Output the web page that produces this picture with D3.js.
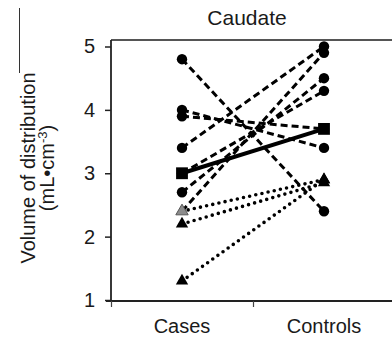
<!DOCTYPE html>
<html>
<head>
<meta charset="utf-8">
<script src="https://cdn.jsdelivr.net/npm/d3@7"></script>
<style>
  body { margin: 0; background: #fff; }
  text { font-family: "Liberation Sans", Arial, sans-serif; fill: #1a1a1a; }
</style>
</head>
<body>
<div id="chart-area"></div>
<script>
// values
var groups = ["Cases", "Controls"];
var yTicks = [1, 2, 3, 4, 5];
// circles joined by dashed lines
var dashedCases    = [4.8, 4.0, 3.9, 3.4, 3.0, 2.7, 2.4];
var dashedControls = [2.4, 3.4, 3.7, 5.0, 4.3, 4.5, 4.9];
// triangles joined by dotted lines
var dottedCases    = [2.4, 2.2, 1.3];
var dottedControls = [2.9, 2.85, 2.9];
// group mean (squares, solid line)
var meanCases    = [3.0];
var meanControls = [3.7];

var width = 392, height = 337;

var svg = d3.select("#chart-area").append("svg")
  .attr("width", width)
  .attr("height", height);

var x = d3.scaleBand().domain(groups).range([111, 395]);
var y = d3.scaleLinear().domain([1, 5]).range([300, 46.5]);
var cx = function(g) { return x(g) + x.bandwidth() / 2; };

// left edge line from the cropped figure
svg.append("line")
  .attr("x1", 19.5).attr("x2", 19.5).attr("y1", 8).attr("y2", 73)
  .attr("stroke", "#333").attr("stroke-width", 1);

// title
svg.append("text")
  .attr("x", 247).attr("y", 25)
  .attr("text-anchor", "middle")
  .attr("font-size", "21px")
  .text("Caudate");

// y label
var yLabel = svg.append("text")
  .attr("transform", "translate(0,168) rotate(-90)")
  .attr("text-anchor", "middle")
  .attr("font-size", "20px");
yLabel.append("tspan").attr("x", 0).attr("y", 35).text("Volume of distribution");
var l2 = yLabel.append("tspan").attr("x", 0).attr("y", 54);
l2.append("tspan").text("(mL\u2022cm");
l2.append("tspan").attr("dy", -7).attr("font-size", "13px").text("-3");
l2.append("tspan").attr("dy", 7).text(")");

// frame top line
svg.append("line")
  .attr("x1", 111).attr("x2", 392).attr("y1", 40).attr("y2", 40)
  .attr("stroke", "#555").attr("stroke-width", 2);

// y axis
var yAxis = d3.axisLeft(y).tickValues(yTicks).tickSizeInner(6).tickSizeOuter(0).tickPadding(10)
  .tickFormat(d3.format("d"));
var yG = svg.append("g").attr("transform", "translate(111,0)").call(yAxis);
yG.select(".domain").remove();
yG.selectAll(".tick line").attr("stroke", "#222").attr("stroke-width", 1.5);
yG.selectAll(".tick text").attr("font-size", "20px").attr("font-family", "Liberation Sans, Arial, sans-serif").attr("fill", "#1a1a1a");
svg.append("line")
  .attr("x1", 111).attr("x2", 111).attr("y1", 40).attr("y2", 301)
  .attr("stroke", "#222").attr("stroke-width", 1.8);

// x axis
svg.append("line")
  .attr("x1", 106).attr("x2", 392).attr("y1", 301).attr("y2", 301)
  .attr("stroke", "#222").attr("stroke-width", 2);
svg.selectAll(".xtick").data(groups).enter().append("line")
  .attr("class", "xtick")
  .attr("x1", function(d) { return x(d) + 0.5; })
  .attr("x2", function(d) { return x(d) + 0.5; })
  .attr("y1", 301).attr("y2", 307)
  .attr("stroke", "#444").attr("stroke-width", 1.2);
svg.selectAll(".xlabel").data(groups).enter().append("text")
  .attr("class", "xlabel")
  .attr("x", function(d) { return cx(d); })
  .attr("y", 333)
  .attr("text-anchor", "middle")
  .attr("font-size", "20px")
  .text(function(d) { return d; });

function pairs(a, b) { return a.map(function(v, i) { return [v, b[i]]; }); }

var dashed = pairs(dashedCases, dashedControls);
var dotted = pairs(dottedCases, dottedControls);
var mean = pairs(meanCases, meanControls);

function drawLines(data, cls) {
  return svg.selectAll("." + cls).data(data).enter().append("line")
    .attr("class", cls)
    .attr("x1", cx("Cases")).attr("x2", cx("Controls"))
    .attr("y1", function(d) { return y(d[0]); })
    .attr("y2", function(d) { return y(d[1]); })
    .attr("stroke", "#000");
}

drawLines(dashed, "dash").attr("stroke-width", 3).attr("stroke-dasharray", "7,4");
drawLines(dotted, "dot").attr("stroke-width", 3.6).attr("stroke-linecap", "round").attr("stroke-dasharray", "0,6.3");
drawLines(mean, "mean").attr("stroke-width", 4);

function markers(data, type, size, fill) {
  var pts = [];
  data.forEach(function(d) {
    pts.push({ g: "Cases", v: d[0] });
    pts.push({ g: "Controls", v: d[1] });
  });
  return svg.append("g").selectAll("path").data(pts).enter().append("path")
    .attr("d", d3.symbol().type(type).size(size))
    .attr("transform", function(d) { return "translate(" + cx(d.g) + "," + y(d.v) + ")"; })
    .attr("fill", fill);
}

// circles (skip the one hidden below the grey triangle)
var circ = markers(dashed, d3.symbolCircle, 85, "#000");
circ.filter(function(d) { return d.g === "Cases" && dottedCases.indexOf(d.v) >= 0; }).remove();

var tri = markers(dotted, d3.symbolTriangle, 66, "#000");
tri.filter(function(d) { return d.g === "Cases" && dashedCases.indexOf(d.v) >= 0; })
  .attr("fill", "#8c8c8c").attr("stroke", "#555").attr("stroke-width", 1);

markers(mean, d3.symbolSquare, 140, "#000");
</script>
</body>
</html>
